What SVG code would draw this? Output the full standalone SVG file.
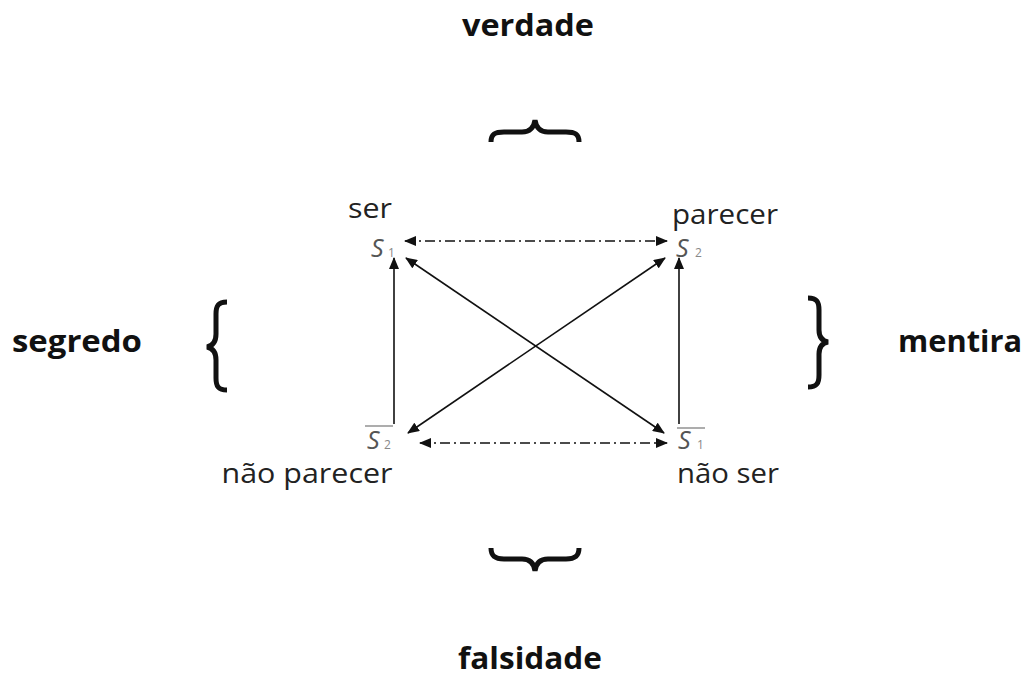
<svg xmlns="http://www.w3.org/2000/svg" width="1029" height="679" viewBox="0 0 1029 679">
<defs>
<marker id="ah" viewBox="0 0 12 10" refX="11" refY="5" markerWidth="12" markerHeight="10" markerUnits="userSpaceOnUse" orient="auto-start-reverse">
<path d="M0 0 L12 5 L0 10 z" fill="#111"/>
</marker>
<style>
.title{font-family:"Open Sans","Liberation Sans",sans-serif;font-weight:700;font-size:31px;fill:#111}
.lbl{font-family:"Open Sans","Liberation Sans",sans-serif;font-weight:400;font-size:27px;fill:#222}
.s{font-family:"Open Sans","Liberation Sans",sans-serif;font-style:italic;font-size:25px;fill:#555}
.sub{font-family:"Open Sans","Liberation Sans",sans-serif;font-size:12px;fill:#888}
.brace{fill:none;stroke:#111;stroke-width:5}
.ln{stroke:#111;stroke-width:1.6;fill:none}
.dd{stroke-dasharray:10 4 2 4}
</style>
</defs>
<rect width="1029" height="679" fill="#fff"/>
<g id="verdade"><text class="title" x="528" y="36" text-anchor="middle" textLength="132" lengthAdjust="spacingAndGlyphs">verdade</text>
<path class="brace" d="M491 142 C491 134 495 132 504 132 L522 132 C530 132 534 127 535 120 C536 127 540 132 548 132 L566 132 C575 132 579 134 579 142"/></g>
<g id="falsidade"><text class="title" x="530" y="669" text-anchor="middle" textLength="144" lengthAdjust="spacingAndGlyphs">falsidade</text>
<path class="brace" d="M491 548 C491 556 495 559 504 559 L522 559 C530 559 534 563 535 571 C536 563 540 559 548 559 L566 559 C575 559 579 556 579 548"/></g>
<g id="segredo"><text class="title" x="77" y="352" text-anchor="middle" textLength="130" lengthAdjust="spacingAndGlyphs">segredo</text>
<path class="brace" d="M227 302 C218 302 216 306 216 314 L216 334 C216 342 212 346 207 347 C212 348 216 352 216 360 L216 378 C216 386 218 390 227 390"/></g>
<g id="mentira"><text class="title" x="960" y="352" text-anchor="middle" textLength="124" lengthAdjust="spacingAndGlyphs">mentira</text>
<path class="brace" d="M808 298 C817 298 819 302 819 310 L819 330 C819 338 823 341 828 342 C823 343 819 346 819 354 L819 375 C819 383 817 387 808 387"/></g>
<g id="s1"><text class="lbl" x="370" y="218" text-anchor="middle" textLength="44" lengthAdjust="spacingAndGlyphs">ser</text>
<text class="s" x="371" y="257">S</text><text class="sub" x="388" y="257">1</text></g>
<g id="s2"><text class="lbl" x="725" y="224" text-anchor="middle" textLength="106" lengthAdjust="spacingAndGlyphs">parecer</text>
<text class="s" x="676" y="257">S</text><text class="sub" x="695" y="257">2</text></g>
<g id="nots2"><text class="lbl" x="307" y="483" text-anchor="middle" textLength="171" lengthAdjust="spacingAndGlyphs">não parecer</text>
<line x1="365" y1="426" x2="393" y2="426" stroke="#777" stroke-width="1.2"/>
<text class="s" x="367" y="449">S</text><text class="sub" x="384" y="449">2</text></g>
<g id="nots1"><text class="lbl" x="728" y="483" text-anchor="middle" textLength="102" lengthAdjust="spacingAndGlyphs">não ser</text>
<line x1="677" y1="428" x2="705" y2="428" stroke="#777" stroke-width="1.2"/>
<text class="s" x="678" y="449">S</text><text class="sub" x="697" y="449">1</text></g>
<g id="connectors">
<line class="ln dd" x1="405" y1="241" x2="667" y2="241" marker-start="url(#ah)" marker-end="url(#ah)"/>
<line class="ln dd" x1="420" y1="443" x2="667" y2="443" marker-start="url(#ah)" marker-end="url(#ah)"/>
<line class="ln" x1="394" y1="424" x2="394" y2="258" marker-end="url(#ah)"/>
<line class="ln" x1="679" y1="424" x2="679" y2="258" marker-end="url(#ah)"/>
<line class="ln" x1="406" y1="258" x2="664" y2="433" marker-start="url(#ah)" marker-end="url(#ah)"/>
<line class="ln" x1="665" y1="258" x2="408" y2="433" marker-start="url(#ah)" marker-end="url(#ah)"/>
</g>
</svg>
